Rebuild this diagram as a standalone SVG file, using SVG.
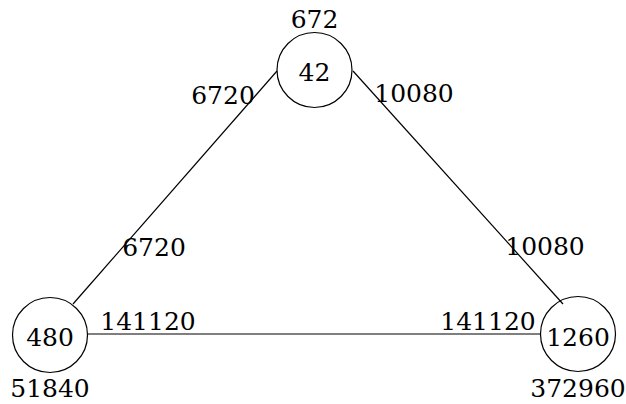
<svg xmlns="http://www.w3.org/2000/svg" width="626" height="404" viewBox="0 0 626 404">
<style>
.n{fill:none;stroke:#000;stroke-width:1.2}
.e{stroke:#000;stroke-width:1.2;fill:none}
.t{font-family:'DejaVu Serif',serif;font-size:25px;fill:#000;text-anchor:middle}
</style>
<rect width="626" height="404" fill="#fff"/>
<g id="connectors">
<line class="e" x1="73" y1="304" x2="277" y2="71"/>
<line class="e" x1="353" y1="71" x2="563" y2="304"/>
<line class="e" x1="88" y1="334" x2="541" y2="334"/>
<text class="t" x="223" y="104">6720</text>
<text class="t" x="154" y="256">6720</text>
<text class="t" x="414" y="102">10080</text>
<text class="t" x="545" y="255">10080</text>
<text class="t" x="148" y="330">141120</text>
<text class="t" x="488" y="330">141120</text>
</g>
<g id="n42">
<circle class="n" cx="314.5" cy="70" r="37.5"/>
<text class="t" x="314.5" y="81">42</text>
<text class="t" x="314.5" y="28">672</text>
</g>
<g id="n480">
<circle class="n" cx="50" cy="335" r="37.5"/>
<text class="t" x="50" y="346">480</text>
<text class="t" x="50" y="397">51840</text>
</g>
<g id="n1260">
<circle class="n" cx="578" cy="334" r="37.5"/>
<text class="t" x="578" y="346">1260</text>
<text class="t" x="578" y="397">372960</text>
</g>
</svg>
